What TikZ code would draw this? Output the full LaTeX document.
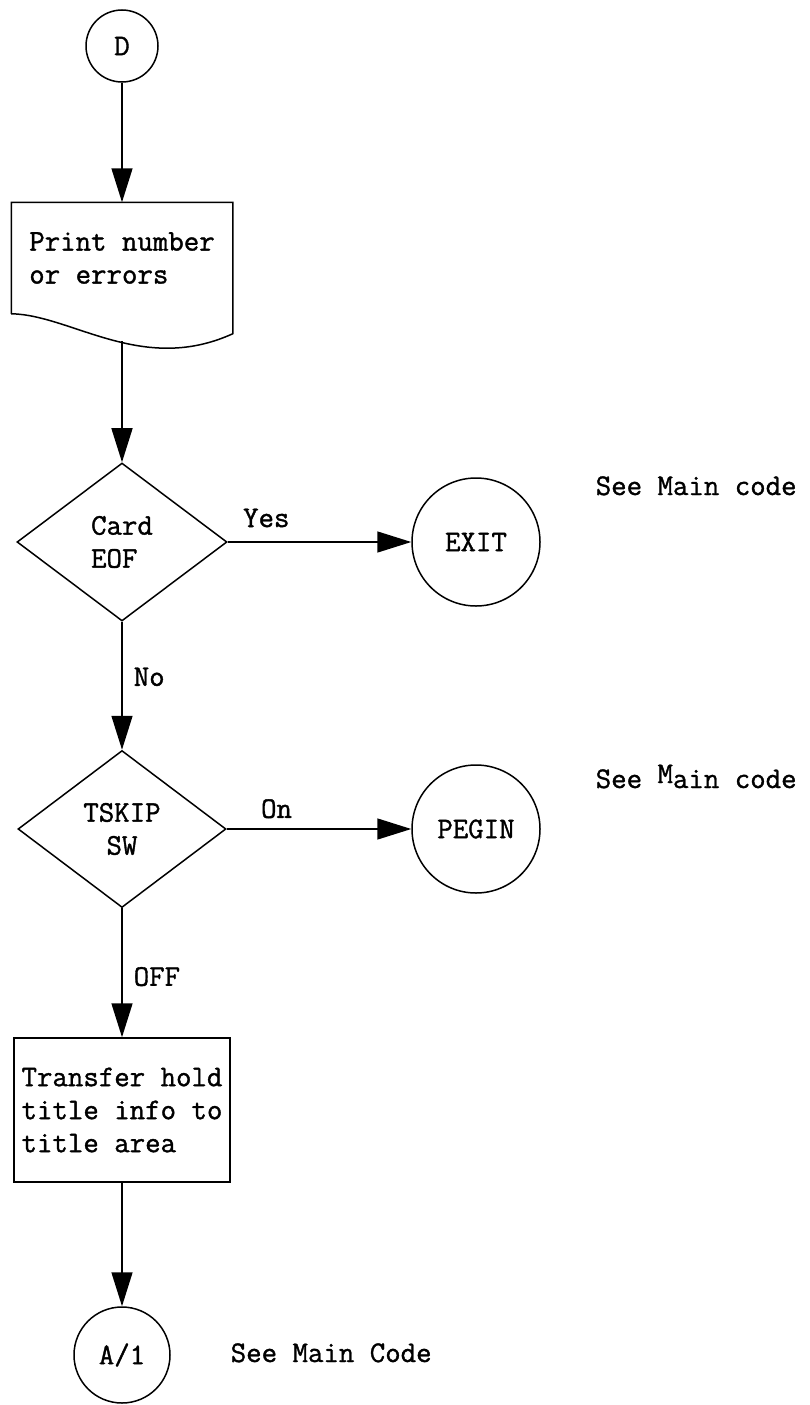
\documentclass[tikz,border=0pt]{standalone}
\usepackage{fontspec}
\newfontfamily\typer{Latin Modern Mono}[FakeBold=1.2]
\usepackage{tikz}
\usetikzlibrary{arrows.meta,shapes.geometric,positioning}

\begin{document}
\begin{tikzpicture}
	[x=1pt, y=-1pt, line width=1.5pt, font=\typer\fontsize{30}{33}\selectfont,
	connector/.style	= {circle, draw, inner sep=0pt},
	decision/.style	= {diamond, draw, inner sep=0pt, minimum width=210pt, minimum height=158pt},
	process/.style	= {rectangle, draw, inner sep=4pt, minimum width=216pt, minimum height=144pt},
	docbox/.style	= {rectangle, draw=none, inner sep=0pt, minimum width=220pt, minimum height=110pt},
	paths/.style	= {-{Triangle[length=34pt, width=21pt]}},
	tag/.style	= {inner sep=0pt},
	note/.style	= {anchor=base west, inner sep=0pt}]
	
	\useasboundingbox (0, 0) rectangle (809, 1405);
	
	\node at (122, 46)	[connector, minimum size=72pt]	(d)	{D};
	\node at (122, 258)	[docbox, align=left]	(doc)	{Print number\\or errors};
	\coordinate (docb) at (122, 341);
	\node at (122, 542)	[decision, align=left]	(card)	{Card\\EOF};
	\node at (476, 542)	[connector, minimum size=128pt]	(exit)	{EXIT};
	\node at (122, 829)	[decision, minimum width=208pt, minimum height=157pt, align=center]	(tskip)	{TSKIP\\SW};
	\node at (476, 829)	[connector, minimum size=128pt]	(pegin)	{PEGIN};
	\node at (122, 1110)	[process, align=left]	(xfer)	{Transfer hold\\title info to\\title area};
	\node at (122, 1355)	[connector, minimum size=96pt]	(a1)	{A/1};
	
	\node at (595, 495)	[note]	(see1)	{See Main code};
	\node at (595, 788)	[note]	(see2)	{See \raisebox{5pt}{M}ain code};
	\node at (230, 1362)	[note]	(see3)	{See Main Code};
	
	\draw (doc.south west) -- (doc.north west) -- (doc.north east) -- ([yshift=-20pt]doc.south east)
		.. controls (142, 375) and (72, 315) .. (doc.south west);
	
	\draw [paths] (d) -- (doc);
	\draw [paths] (docb) -- (card);
	\draw [paths] (card) -- (exit) node [tag, pos=0.21, above=14pt] {Yes};
	\draw [paths] (card) -- (tskip) node [tag, pos=0.43, right=11pt] {No};
	\draw [paths] (tskip) -- (pegin) node [tag, pos=0.27, above=10pt] {On};
	\draw [paths] (tskip) -- (xfer) node [tag, pos=0.53, right=11pt] {OFF};
	\draw [paths] (xfer) -- (a1);
\end{tikzpicture}
\end{document}
